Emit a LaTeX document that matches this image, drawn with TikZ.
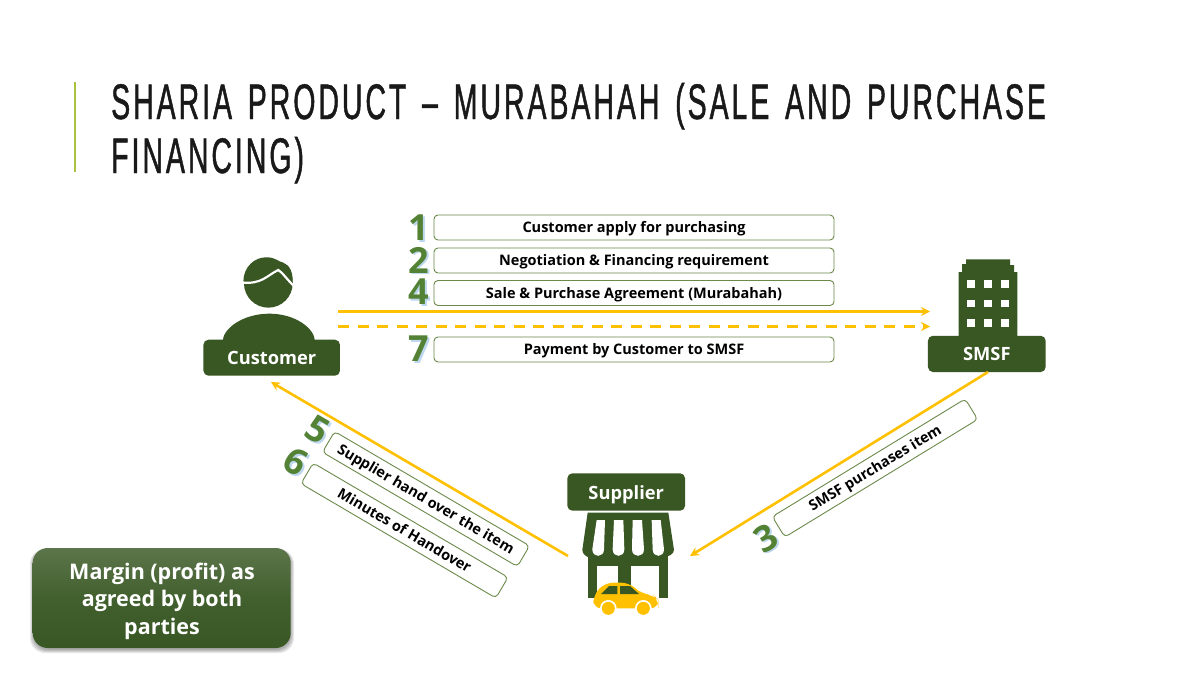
\documentclass[tikz,border=0pt]{standalone}
\usepackage{fontspec}
\setmainfont{Open Sans}
\newfontfamily\titlefont[FakeStretch=0.57,LetterSpace=5.9,FakeBold=0.9,WordSpace=1.45]{Liberation Sans}
\usetikzlibrary{arrows.meta}
\definecolor{dkgreen}{HTML}{385723}
\definecolor{midgreen}{HTML}{548235}
\definecolor{edgegreen}{HTML}{6B8A4A}
\definecolor{gold}{HTML}{FFC000}
\definecolor{lime}{HTML}{A9C23F}
\definecolor{shadowblue}{HTML}{BDD7EE}
\tikzset{
  x=1pt,y=-1pt,
  labelbox/.style={draw=edgegreen,line width=0.9pt,rounded corners=4pt,fill=white,minimum width=400pt,minimum height=25pt,inner sep=0pt,text height=12pt,text depth=2pt,font=\fontsize{14.5}{17}\selectfont\bfseries,text=black},
  diagbox/.style={labelbox,minimum width=226pt,minimum height=24pt},
  tag/.style={fill=dkgreen,rounded corners=5pt,inner sep=0pt,text height=16pt,text depth=2pt,text=white,font=\fontsize{18.3}{22}\selectfont\bfseries},
  numtext/.style={font=\fontsize{36}{40}\selectfont\bfseries,text=midgreen,inner sep=0pt},
  numshadow/.style={font=\fontsize{36}{40}\selectfont\bfseries,text=shadowblue,inner sep=0pt},
  flow/.style={draw=gold,line width=2.6pt,-{Stealth[length=9pt,width=9pt]}},
  ttl/.style={anchor=base west,inner sep=0pt,font=\titlefont\fontsize{50}{54}\selectfont,text=black!90}
}
\newcommand{\numlabel}[5]{%
  \node[numshadow,rotate=#4] (#1s) at (#2+1.6,#3+1.2) {#5};
  \node[numtext,rotate=#4] (#1) at (#2,#3) {#5};}
\begin{document}
\begin{tikzpicture}
\useasboundingbox (0,0) rectangle (1200,675);
\fill[white] (0,0) rectangle (1200,675);
% title
\coordinate (accTop) at (75,82);
\coordinate (accBot) at (75,172);
\draw[lime,line width=1.6pt] (accTop) -- (accBot);
\node[ttl] (title1) at (111,119) {SHARIA PRODUCT – MURABAHAH (SALE AND PURCHASE};
\node[ttl] (title2) at (111,173) {FINANCING)};
% label boxes
\node[labelbox] (b1) at (634,227.5) {Customer apply for purchasing};
\node[labelbox] (b2) at (634,260.5) {Negotiation \& Financing requirement};
\node[labelbox] (b4) at (634,293) {Sale \& Purchase Agreement (Murabahah)};
\node[labelbox] (b7) at (634,349.5) {Payment by Customer to SMSF};
\node[diagbox,rotate=-30.4] (b5) at (426,499) {Supplier hand over the item};
\node[diagbox,rotate=-30.4] (b6) at (404.5,530.5) {Minutes of Handover};
\node[diagbox,rotate=31.4] (b3) at (875,468) {SMSF purchases item};
% numbers
\numlabel{n1}{419}{228}{0}{1}
\numlabel{n2}{419}{260}{0}{2}
\numlabel{n4}{419}{292}{0}{4}
\numlabel{n7}{419}{349}{0}{7}
\numlabel{n5}{318}{430}{-30}{5}
\numlabel{n6}{296}{462}{-30}{6}
\numlabel{n3}{766}{538}{30}{3}
% customer icon
\begin{scope}[shift={(180,200)},scale=1/3]
  \fill[dkgreen] (265,250) circle[radius=73];
  \fill[dkgreen] (190,245) .. controls (190,200) and (225,170) .. (262,172) .. controls (285,172) and (295,185) .. (310,188) .. controls (330,195) and (340,220) .. (338,250) -- cycle;
  \draw[white,line width=2.2pt] (184,247) .. controls (245,255) and (262,225) .. (295,210) .. controls (308,218) and (322,240) .. (342,258);
  \fill[dkgreen] (128,425) .. controls (128,385) and (190,341) .. (268,341) .. controls (345,341) and (405,385) .. (405,425) -- cycle;
\end{scope}
\node[tag,minimum width=136.5pt,minimum height=36pt] (customer) at (271.7,357.7) {Customer};
% SMSF icon
\begin{scope}[shift={(860,240)},scale=1/3]
  \fill[dkgreen] (296,300) -- (296,96) -- (306,96) -- (306,72) -- (318,72) -- (318,58) -- (450,58) -- (450,75) -- (462,75) -- (462,96) -- (472,96) -- (472,300) -- cycle;
  \foreach \wx in {333,384,435}\foreach \wy in {132,190,249}
    \fill[white] (\wx-11.5,\wy-11.5) rectangle (\wx+11.5,\wy+11.5);
\end{scope}
\node[tag,minimum width=117.7pt,minimum height=36.3pt] (smsf) at (986.8,353.9) {SMSF};
% supplier icon
\node[tag,minimum width=117.7pt,minimum height=37.4pt] (supplier) at (626.2,492) {Supplier};
\begin{scope}[shift={(540,460)},scale=1/3]
  \fill[dkgreen] (143,280) rectangle (385,415);
  \fill[white] (172,318) rectangle (235,415);
  \fill[white] (272,318) rectangle (357,415);
  \fill[dkgreen] (143,158) -- (385,158) -- (402,270) .. controls (402,282) and (385,292) .. (364,292) -- (150,292) .. controls (140,292) and (127,282) .. (127,270) -- cycle;
  \fill[white] (170,180) -- (195,180) -- (192,268) .. controls (192,294) and (157,294) .. (157,268) -- cycle;
  \fill[white] (222,180) -- (250,180) -- (253,268) .. controls (253,294) and (218,294) .. (218,268) -- cycle;
  \fill[white] (278,180) -- (306,180) -- (312,268) .. controls (312,294) and (276,294) .. (276,268) -- cycle;
  \fill[white] (335,180) -- (362,180) -- (372,268) .. controls (372,294) and (338,294) .. (338,268) -- cycle;
  % car
  \fill[white] (148,440) rectangle (368,470);
  \fill[gold,rounded corners=8pt] (160,445) -- (160,405) -- (195,368) -- (268,368) -- (305,402) -- (340,405) -- (355,420) -- (355,445) -- cycle;
  \fill[dkgreen] (183,402) -- (207,378) -- (232,378) -- (232,402) -- cycle;
  \fill[dkgreen] (240,378) -- (270,378) -- (297,402) -- (240,402) -- cycle;
  \fill[white] (205,445) circle[radius=25];
  \fill[white] (310,445) circle[radius=25];
  \fill[gold] (205,445) circle[radius=19.5];
  \fill[gold] (310,445) circle[radius=19.5];
\end{scope}
% connectors
\coordinate (c1) at (338,311.5); \coordinate (s1) at (930,311.5);
\coordinate (c2) at (338,326.5); \coordinate (s2) at (930,326.5);
\coordinate (cArr) at (271,382); \coordinate (supL) at (568,556);
\coordinate (smsfB) at (988,372); \coordinate (supR) at (690,556);
\draw[flow] (c1) -- (s1);
\draw[flow,dash pattern=on 11pt off 8.5pt] (c2) -- (s2);
\draw[flow] (supL) -- (cArr);
\draw[flow] (smsfB) -- (supR);
% margin box
\foreach \gr in {0,1,2,3}
  \fill[black,opacity=0.09,rounded corners=15pt] (33-\gr,549) rectangle (291+\gr,650+\gr);
\node[rounded corners=15pt,minimum width=258pt,minimum height=100pt,inner sep=0pt,top color=dkgreen!82!white,bottom color=dkgreen,middle color=dkgreen!95!white] (margin) at (161.7,598) {};
\node[inner sep=0pt,align=center,text=white,font=\fontsize{21.5}{27.5}\selectfont\bfseries] (margintext) at (162,601) {Margin (profit) as\\agreed by both\\parties};
\end{tikzpicture}
\end{document}
